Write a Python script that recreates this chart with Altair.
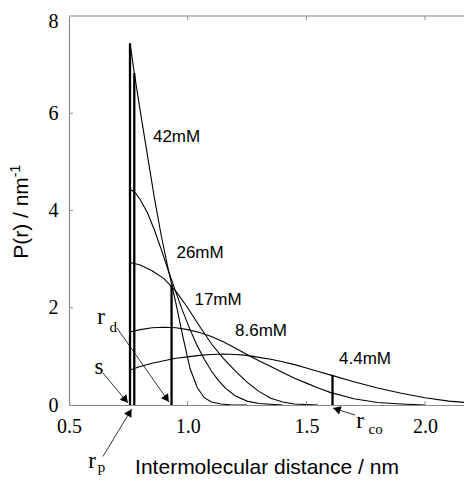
import math
import altair as alt
import pandas as pd

# ---------------- data ----------------
r_42 = [0.757, 0.775, 0.80, 0.83, 0.86, 0.89, 0.92, 0.95, 0.98, 1.01, 1.04, 1.07, 1.10, 1.14, 1.18, 1.25]
p_42 = [7.44, 6.83, 6.05, 5.15, 4.25, 3.45, 2.75, 2.10, 1.40, 0.75, 0.36, 0.15, 0.06, 0.02, 0.005, 0.0]

r_26 = [0.757, 0.78, 0.80, 0.83, 0.86, 0.89, 0.92, 0.95, 0.98, 1.01, 1.04, 1.07, 1.10, 1.13, 1.16, 1.20, 1.25, 1.30, 1.40]
p_26 = [4.44, 4.36, 4.22, 3.96, 3.60, 3.18, 2.74, 2.32, 1.92, 1.55, 1.22, 0.94, 0.70, 0.50, 0.34, 0.19, 0.08, 0.03, 0.0]

r_17 = [0.757, 0.80, 0.85, 0.90, 0.95, 1.00, 1.05, 1.10, 1.15, 1.20, 1.25, 1.30, 1.35, 1.40, 1.45, 1.55]
p_17 = [2.93, 2.88, 2.76, 2.60, 2.34, 2.00, 1.62, 1.26, 0.96, 0.70, 0.47, 0.28, 0.14, 0.06, 0.02, 0.0]

r_86 = [0.757, 0.80, 0.85, 0.90, 0.95, 1.00, 1.05, 1.10, 1.15, 1.20, 1.25, 1.30, 1.35, 1.40, 1.45,
        1.50, 1.55, 1.60, 1.70, 1.80, 1.90, 2.00]
p_86 = [1.50, 1.55, 1.59, 1.60, 1.59, 1.55, 1.49, 1.41, 1.30, 1.17, 1.04, 0.91, 0.79, 0.67, 0.55,
        0.45, 0.35, 0.26, 0.13, 0.05, 0.02, 0.0]

r_44 = [0.757, 0.80, 0.85, 0.90, 0.95, 1.00, 1.05, 1.10, 1.15, 1.20, 1.25, 1.30, 1.35, 1.40, 1.45,
        1.50, 1.55, 1.60, 1.70, 1.80, 1.90, 2.00, 2.10, 2.20]
p_44 = [0.72, 0.79, 0.86, 0.91, 0.96, 0.99, 1.02, 1.04, 1.05, 1.04, 1.02, 0.98, 0.94, 0.89, 0.83,
        0.76, 0.69, 0.62, 0.48, 0.35, 0.24, 0.15, 0.08, 0.04]

series_names = ["42mM", "26mM", "17mM", "8.6mM", "4.4mM"]
label_x = [0.953, 1.052, 1.128, 1.309, 1.747]
label_y = [5.51, 3.12, 2.16, 1.52, 0.95]

# characteristic distances (vertical markers) and their heights
marker_r = [0.757, 0.775, 0.932, 1.61]
marker_top = [7.44, 6.83, 2.47, 0.62]

# annotation texts
ann_text = ["s", "r", "d", "r", "co", "r", "p"]
ann_x = [0.626, 0.635, 0.686, 1.726, 1.792, 0.597, 0.637]
ann_y = [0.78, 1.81, 1.60, -0.33, -0.49, -1.15, -1.27]
ann_big = [True, True, False, True, False, True, False]

# arrows: start -> tip
arr_x0 = [0.6432, 0.7022, 0.6430, 1.7048]
arr_y0 = [0.658, 1.584, -1.06, -0.206]
arr_x1 = [0.7485, 0.9212, 0.7641, 1.6121]
arr_y1 = [0.041, 0.062, -0.082, -0.062]

x_ticks = [0.5, 1.0, 1.5, 2.0]
y_ticks = [0, 2, 4, 6, 8]

# ---------------- layout ----------------
W, H = 395, 389
X_DOM = [0.5, 2.164]
Y_DOM = [0, 8]
GRAY = "#8a8a8a"
SERIF = "Liberation Serif"
SANS = "Liberation Sans"

xs = alt.Scale(domain=X_DOM, nice=False, zero=False)
ys = alt.Scale(domain=Y_DOM, nice=False, zero=False)

rows = []
for name, rr, pp in zip(series_names, [r_42, r_26, r_17, r_86, r_44], [p_42, p_26, p_17, p_86, p_44]):
    for a, b in zip(rr, pp):
        rows.append({"series": name, "r": a, "p": b})
curves_df = pd.DataFrame(rows)

x_axis = alt.Axis(values=x_ticks, format=".1f", title="Intermolecular distance / nm",
                  titleFont=SANS, titleFontSize=21, titleFontWeight="normal", titleColor="black",
                  titleBaseline="alphabetic", titleY=68,
                  labelFont=SERIF, labelFontSize=20, labelColor="black", labelBaseline="alphabetic",
                  labelPadding=27, labelFlush=False, ticks=False, tickSize=0,
                  domainColor=GRAY, domainWidth=1.2, grid=False)
y_axis = alt.Axis(values=y_ticks, title=None, labelFont=SERIF, labelFontSize=20, labelColor="black",
                  labelPadding=11, labelFlush=False, ticks=False, tickSize=0,
                  labelOffset={"condition": {"test": "datum.value == 8", "value": 5}, "value": 0},
                  domainColor=GRAY, domainWidth=1.2, grid=False)


def X(field):
    return alt.X(field, scale=xs, axis=x_axis)


def Y(field):
    return alt.Y(field, scale=ys, axis=y_axis)


curves = alt.Chart(curves_df).mark_line(color="black", strokeWidth=1.1, clip=True).encode(
    x=X("r:Q"), y=Y("p:Q"), detail="series:N")

markers = alt.Chart(pd.DataFrame({"r": marker_r, "top": marker_top})).transform_calculate(
    zero="0").mark_rule(color="black", strokeWidth=2.3).encode(
    x=X("r:Q"), y=Y("zero:Q"), y2="top:Q")

labels = alt.Chart(pd.DataFrame({"t": series_names, "x": label_x, "y": label_y})).mark_text(
    font=SANS, fontSize=17, color="black", align="center", baseline="middle").encode(
    x=X("x:Q"), y=Y("y:Q"), text="t:N")

ann_df = pd.DataFrame({"t": ann_text, "x": ann_x, "y": ann_y, "big": ann_big})
ann_big_l = alt.Chart(ann_df).transform_filter("datum.big").mark_text(
    font=SERIF, fontSize=23, color="black", align="center", baseline="middle").encode(
    x=X("x:Q"), y=Y("y:Q"), text="t:N")
ann_small_l = alt.Chart(ann_df).transform_filter("!datum.big").mark_text(
    font=SERIF, fontSize=15, color="black", align="center", baseline="middle").encode(
    x=X("x:Q"), y=Y("y:Q"), text="t:N")

# arrows
sx = W / (X_DOM[1] - X_DOM[0])
sy = H / (Y_DOM[1] - Y_DOM[0])
heads = []
for x0, y0, x1, y1 in zip(arr_x0, arr_y0, arr_x1, arr_y1):
    dxp = (x1 - x0) * sx
    dyp = -(y1 - y0) * sy
    L = math.hypot(dxp, dyp)
    ux, uy = dxp / L, dyp / L
    ang = math.degrees(math.atan2(ux, -uy)) % 360
    heads.append({"x": x1 - 4.0 * ux / sx, "y": y1 + 4.0 * uy / sy, "a": ang})
arr_df = pd.DataFrame({"x0": arr_x0, "y0": arr_y0, "x1": arr_x1, "y1": arr_y1})
arrow_lines = alt.Chart(arr_df).mark_rule(color="black", strokeWidth=0.8).encode(
    x=X("x0:Q"), y=Y("y0:Q"), x2="x1:Q", y2="y1:Q")
arrow_heads = alt.Chart(pd.DataFrame(heads)).mark_point(
    shape="triangle-up", filled=True, color="black", size=75, opacity=1).encode(
    x=X("x:Q"), y=Y("y:Q"), angle=alt.Angle("a:Q", scale=None))

# frame: top line and inward ticks
tick_df_x = pd.DataFrame({"v": x_ticks[1:]})
tick_df_y = pd.DataFrame({"v": y_ticks[1:-1]})
top_line = alt.Chart(pd.DataFrame({"a": [0]})).mark_rule(color=GRAY, strokeWidth=1.2).encode(
    x=alt.value(0), x2=alt.value(W), y=alt.value(0))
ticks_bottom = alt.Chart(tick_df_x).mark_rule(color=GRAY, strokeWidth=1).encode(
    x=X("v:Q"), y=alt.value(H), y2=alt.value(H - 4))
ticks_top = alt.Chart(tick_df_x).mark_rule(color=GRAY, strokeWidth=1).encode(
    x=X("v:Q"), y=alt.value(0), y2=alt.value(4))
ticks_left = alt.Chart(tick_df_y).mark_rule(color=GRAY, strokeWidth=1).encode(
    y=Y("v:Q"), x=alt.value(0), x2=alt.value(4))

# y axis title with superscript
ytitle = alt.Chart(pd.DataFrame({"t": ["P(r) / nm"]})).mark_text(
    font=SANS, fontSize=21, color="black", angle=270, align="center", baseline="alphabetic").encode(
    text="t:N", x=alt.value(-41), y=alt.value(202))
ytitle_sup = alt.Chart(pd.DataFrame({"t": ["-1"]})).mark_text(
    font=SANS, fontSize=14, color="black", angle=270, align="center", baseline="alphabetic").encode(
    text="t:N", x=alt.value(-49), y=alt.value(155))

chart = alt.layer(
    curves, markers, labels, ann_big_l, ann_small_l, arrow_lines, arrow_heads,
    top_line, ticks_bottom, ticks_top, ticks_left,
    ytitle, ytitle_sup,
).properties(
    width=W, height=H,
    autosize=alt.AutoSizeParams(type="none"),
    padding={"left": 61, "top": 8, "right": 0, "bottom": 72},
).configure_view(stroke=None)

chart.save("out.html", embed_options={"renderer": "svg", "actions": False})
